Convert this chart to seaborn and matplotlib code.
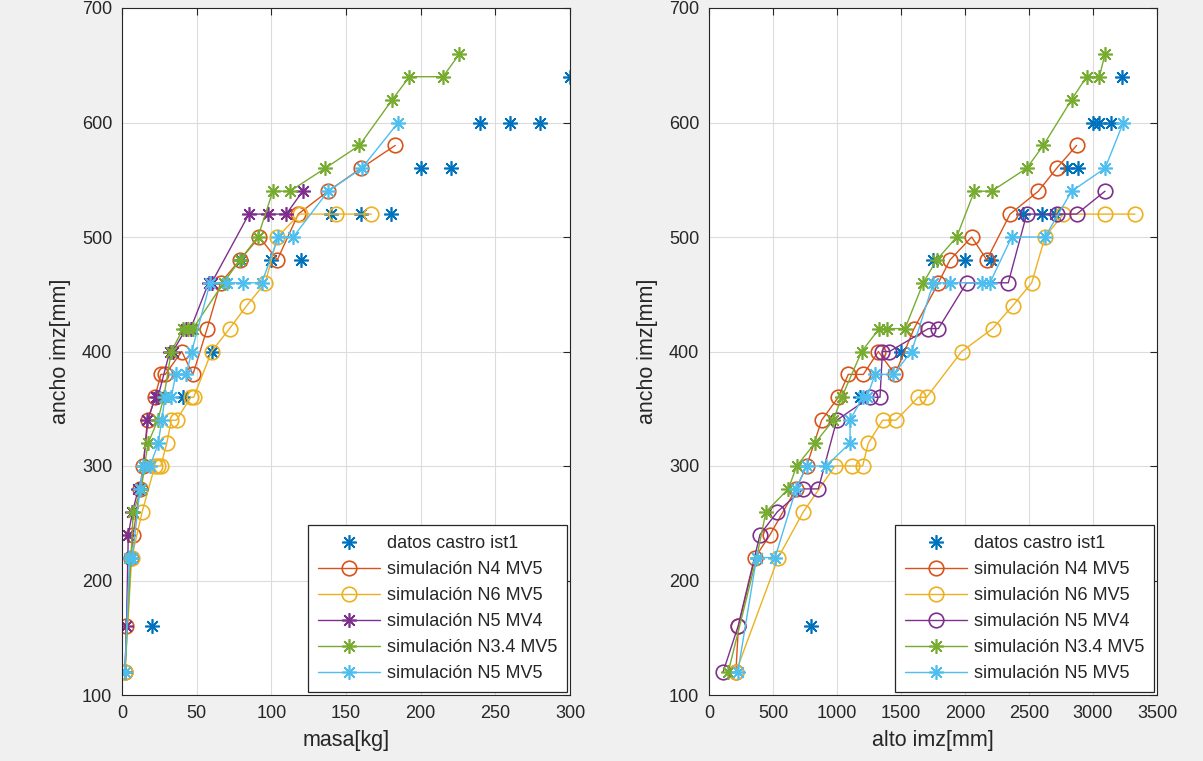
import matplotlib
matplotlib.use("Agg")
import matplotlib.pyplot as plt
import seaborn as sns

# ---- measured data (datos castro ist1) ----
ancho_castro = [160, 360, 400, 480, 480, 480, 520, 520, 520, 560, 560, 600, 600, 600, 640]
masa_castro = [20, 41, 60, 80, 100, 120, 140, 160, 180, 200, 220, 240, 260, 280, 300]
alto_castro = [800, 1180, 1500, 1750, 2000, 2200, 2450, 2600, 2700, 2800, 2880, 3000, 3050, 3140, 3230]

# ---- simulación N4 MV5 ----
ancho_n4 = [120, 160, 220, 240, 280, 300, 340, 360, 380, 380, 400, 380, 420, 460, 480, 500, 480, 520, 540, 560, 580]
masa_n4 = [2, 3, 6, 7.5, 12, 14, 17.5, 22, 26, 29, 40, 47.5, 57, 66, 79, 92, 104, 118, 138, 160, 183]
alto_n4 = [210, 230, 360, 477, 680, 763, 880, 1010, 1088, 1206, 1323, 1453, 1602, 1792, 1883, 2052, 2170, 2352, 2573, 2716, 2872]

# ---- simulación N6 MV5 ----
ancho_n6 = [120, 220, 260, 300, 300, 300, 320, 340, 340, 360, 360, 400, 420, 440, 460, 500, 520, 520, 520]
masa_n6 = [2, 6.5, 13.5, 22, 24, 26, 30, 33, 36.5, 46, 48, 60, 72, 83.5, 96, 104, 119, 143, 167]
alto_n6 = [210, 541, 737, 984, 1115, 1200, 1245, 1357, 1461, 1635, 1700, 1974, 2216, 2373, 2521, 2625, 2768, 3094, 3328]

# ---- simulación N5 MV4 ----
ancho_n5mv4 = [120, 160, 240, 260, 280, 280, 340, 360, 360, 400, 400, 420, 420, 460, 460, 520, 520, 520, 540]
masa_n5mv4 = [2, 3, 4.2, 7, 11, 13, 17, 22.5, 24, 32, 34, 43, 46, 58, 60, 85, 98, 110, 121]
alto_n5mv4 = [110, 227, 398, 534, 737, 854, 998, 1258, 1336, 1355, 1410, 1714, 1792, 2013, 2338, 2482, 2716, 2872, 3094]

# ---- simulación N3.4 MV5 ----
ancho_n34 = [120, 220, 260, 280, 300, 320, 340, 360, 400, 420, 420, 420, 460, 480, 500, 540, 540, 560, 580, 620, 640, 640, 660]
masa_n34 = [2, 6, 7.5, 13, 15, 17.5, 24, 28, 33, 41, 44, 47.5, 68, 79, 91, 101, 112.5, 136, 159, 181, 192.5, 215, 226]
alto_n34 = [150, 372, 445, 620, 685, 828, 971, 1037, 1193, 1330, 1390, 1531, 1674, 1779, 1935, 2073, 2208, 2482, 2612, 2833, 2950, 3050, 3094]

# ---- simulación N5 MV5 ----
ancho_n5mv5 = [120, 220, 220, 280, 300, 300, 320, 340, 360, 360, 380, 380, 400, 460, 460, 460, 460, 500, 500, 540, 560, 600]
masa_n5mv5 = [2, 5, 7, 12, 14.3, 18.8, 24.3, 26.6, 28.8, 33, 36, 43, 46.7, 59, 70, 81, 93.6, 104.7, 114.7, 138, 160.5, 185]
alto_n5mv5 = [225, 372, 516, 680, 763, 914, 1102, 1102, 1200, 1234, 1297, 1440, 1583, 1753, 1883, 2130, 2195, 2365, 2625, 2833, 3094, 3237]

labels = ["datos castro ist1", "simulación N4 MV5", "simulación N6 MV5",
          "simulación N5 MV4", "simulación N3.4 MV5", "simulación N5 MV5"]
colors = ["#0072BD", "#D95319", "#EDB120", "#7E2F8E", "#77AC30", "#4DBEEE"]

xticks_masa = [0, 50, 100, 150, 200, 250, 300]
xticks_alto = [0, 500, 1000, 1500, 2000, 2500, 3000, 3500]
yticks = [100, 200, 300, 400, 500, 600, 700]

sns.set_style("white")
plt.rcParams["font.family"] = ["Liberation Sans", "DejaVu Sans"]

ASTER = (8, 2, 0)
MS = 10.5
MEW = 1.2
LW = 1.0

fig = plt.figure(figsize=(12.03, 7.61), dpi=100, facecolor="#F0F0F0")
ax1 = fig.add_axes([122 / 1203, 1 - 695 / 761, 448 / 1203, 687 / 761])
ax2 = fig.add_axes([709 / 1203, 1 - 695 / 761, 448 / 1203, 687 / 761])


def draw(ax, xs, mv4_marker):
    series = [
        (xs[0], ancho_castro, ASTER, "none"),
        (xs[1], ancho_n4, "o", "-"),
        (xs[2], ancho_n6, "o", "-"),
        (xs[3], ancho_n5mv4, mv4_marker, "-"),
        (xs[4], ancho_n34, ASTER, "-"),
        (xs[5], ancho_n5mv5, ASTER, "-"),
    ]
    for (x, y, mk, ls), lab, col in zip(series, labels, colors):
        sns.lineplot(x=x, y=y, ax=ax, sort=False, estimator=None,
                     color=col, linestyle=ls, linewidth=LW,
                     marker=mk, markersize=MS, markeredgewidth=MEW,
                     markerfacecolor="none", markeredgecolor=col,
                     label=lab, legend=False)


draw(ax1, [masa_castro, masa_n4, masa_n6, masa_n5mv4, masa_n34, masa_n5mv5], ASTER)
draw(ax2, [alto_castro, alto_n4, alto_n6, alto_n5mv4, alto_n34, alto_n5mv5], "o")

for ax, xt, xlab in [(ax1, xticks_masa, "masa[kg]"), (ax2, xticks_alto, "alto imz[mm]")]:
    ax.set_facecolor("white")
    ax.set_xlim(xt[0], xt[-1])
    ax.set_ylim(yticks[0], yticks[-1])
    ax.set_xticks(xt)
    ax.set_yticks(yticks)
    ax.grid(True, color="#DCDCDC", linewidth=0.8)
    ax.set_axisbelow(True)
    ax.tick_params(direction="in", length=5, width=0.8, top=True, right=True,
                   labelsize=13, colors="#262626", pad=7)
    for sp in ax.spines.values():
        sp.set_visible(True)
        sp.set_color("#262626")
        sp.set_linewidth(0.8)
    ax.set_xlabel(xlab, fontsize=15.5, color="#262626", labelpad=6)
    ax.set_ylabel("ancho imz[mm]", fontsize=15.5, color="#262626", labelpad=8)
    handles, labs = ax.get_legend_handles_labels()
    leg = ax.legend(handles, labs, loc="lower right", fontsize=13,
                    frameon=True, fancybox=False, framealpha=1,
                    edgecolor="#262626", borderaxespad=0.15,
                    handlelength=3.4, handletextpad=0.4, labelspacing=0.5,
                    borderpad=0.55)
    leg.get_frame().set_linewidth(0.9)

fig.savefig("out.png", dpi=100, facecolor=fig.get_facecolor())
